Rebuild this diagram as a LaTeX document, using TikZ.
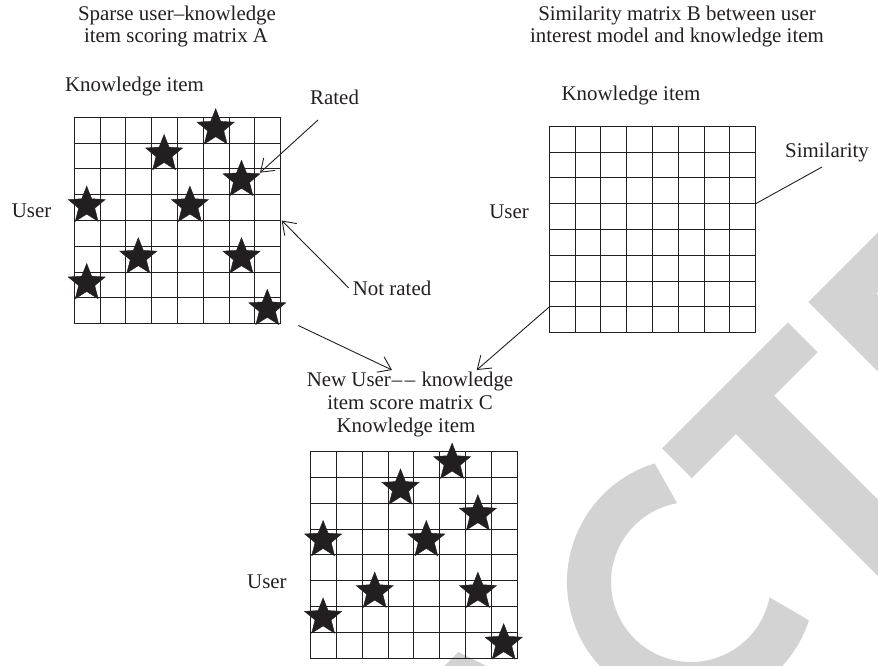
\documentclass[tikz,border=0pt]{standalone}
\usepackage{fontspec}
\setmainfont{Liberation Serif}
\usetikzlibrary{arrows.meta,shapes.geometric}
\definecolor{ink}{HTML}{231F20}
\definecolor{wm}{HTML}{D3D3D3}
\newcommand\mkgrid[2]{%
  \foreach \i in {0,...,8} {%
    \draw[gridline] ({#1+\i*25.8},#2) -- ({#1+\i*25.8},{#2+206.4});
    \draw[gridline] (#1,{#2+\i*25.8}) -- ({#1+206.4},{#2+\i*25.8});
  }}
\begin{document}
\begin{tikzpicture}[x=1pt,y=-1pt,
  lbl/.style={inner sep=0pt, text=ink, font=\fontsize{20.9pt}{22.5pt}\selectfont},
  gridline/.style={draw=ink, line width=1.1pt, line cap=rect},
  gridbox/.style={rectangle, minimum width=206.4pt, minimum height=206.4pt, inner sep=0pt, outer sep=0pt, anchor=north west},
  starmark/.style={star, star points=5, star point ratio=2.3, minimum size=39pt, inner sep=0pt, outer sep=0pt, fill=ink, draw=ink, line width=0.4pt},
  conn/.style={draw=ink, line width=0.9pt, -{Straight Barb[length=12pt,width=17pt]}},
  plainline/.style={draw=ink, line width=0.9pt}
]
\useasboundingbox (0,0) rectangle (878,665);
% watermark
\begin{scope}
\clip (0,0) rectangle (878,665);
\begin{scope}[shift={(691,582)}, x={(0.7071pt,0.7071pt)}, y={(-0.7071pt,0.7071pt)}]
  \fill[wm] (62:124) arc[start angle=62, end angle=297, radius=124] -- (304:80) arc[start angle=304, end angle=55, radius=80] -- cycle;
  \fill[wm] (74,115) -- (252,115) -- (252,73) -- (190.5,73) -- (190.5,-400) -- (136.4,-400) -- (136.4,73) -- (74,73) -- cycle;
  \fill[wm] (281,115) -- (470,115) -- (470,73) -- (335,73) -- (335,-400) -- (281,-400) -- cycle;
  \fill[wm] (-290,115) -- (-214,115) -- (-139,-110) -- (-200,-110) -- (-252,60) -- (-304,-110) -- (-365,-110) -- cycle;
\end{scope}
\end{scope}
% grids
\node[gridbox] (gridA) at (74.3,117.3) {};
\node[gridbox] (gridB) at (549.3,126.3) {};
\node[gridbox] (gridC) at (310.7,451.7) {};
\mkgrid{74.3}{117.3}
\mkgrid{549.3}{126.3}
\mkgrid{310.7}{451.7}
% stars
\foreach \c/\r [count=\k] in {5/0,3/1,6/2,0/3,4/3,2/5,6/5,0/6,7/7} {
  \node[starmark] (sa\k) at ({74.3+(\c+0.5)*25.8-0.5},{117.3+(\r+0.5)*25.8-2}) {};
  \node[starmark] (sc\k) at ({310.7+(\c+0.5)*25.8-0.5},{451.7+(\r+0.5)*25.8-2}) {};
}
% labels
\node[lbl, anchor=base] (tA1) at (177,20.7) {Sparse user–knowledge};
\node[lbl, anchor=base] (tA2) at (176,42.7) {item scoring matrix A};
\node[lbl, anchor=base] (kA) at (134.5,91.7) {Knowledge item};
\node[lbl, anchor=base] (tB1) at (677,20.7) {Similarity matrix B between user};
\node[lbl, anchor=base] (tB2) at (677,42.7) {interest model and knowledge item};
\node[lbl, anchor=base] (kB) at (631,100) {Knowledge item};
\node[lbl, anchor=base west] (rated) at (310,104) {Rated};
\node[lbl, anchor=base west] (sim) at (785,157) {Similarity};
\node[lbl, anchor=base west] (uA) at (11.7,217.3) {User};
\node[lbl, anchor=base east] (uB) at (529,218) {User};
\node[lbl, anchor=base west] (notr) at (352.7,295) {Not rated};
\node[lbl, anchor=base] (tC1) at (410,386.7) {New User\kern1pt–\kern2.5pt–\kern1pt\ knowledge};
\node[lbl, anchor=base] (tC2) at (410,409) {item score matrix C};
\node[lbl, anchor=base] (kC) at (406,432) {Knowledge item};
\node[lbl, anchor=base west] (uC) at (247,588) {User};
% connectors
\coordinate (ratedfoot) at (318,120);
\coordinate (ratedtip) at (260,172.7);
\draw[conn] (ratedfoot) -- (ratedtip);
\draw[conn] ([xshift=-4pt]notr.west) -- ([xshift=1pt]gridA.east);
\coordinate (aout) at (298.3,325.5);
\coordinate (cinA) at (392,370);
\draw[conn] (aout) -- (cinA);
\coordinate (cinB) at (476.7,370);
\draw[conn] ([yshift=25.8pt]gridB.south west) -- (cinB);
\coordinate (simfoot) at (822,167);
\draw[plainline] ([yshift=25.8pt]gridB.east) -- (simfoot);
\end{tikzpicture}
\end{document}
